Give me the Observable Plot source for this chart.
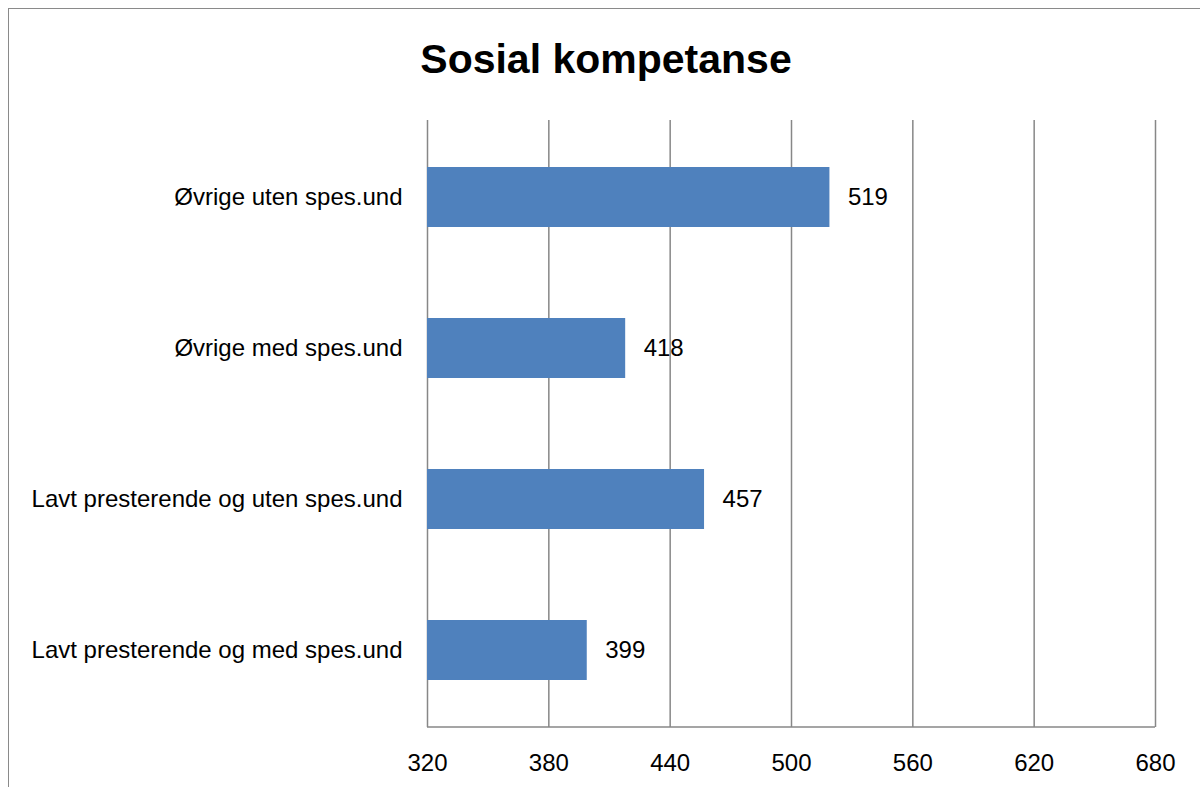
<!DOCTYPE html>
<html>
<head>
<meta charset="utf-8">
<script src="https://cdn.jsdelivr.net/npm/d3@7"></script>
<script src="https://cdn.jsdelivr.net/npm/@observablehq/plot@0.6"></script>
<style>
  html, body { margin: 0; padding: 0; background: #fff; overflow: hidden; }
  #wrap { position: relative; width: 1200px; height: 787px; }
  #border { position: absolute; left: 8px; top: 8px; width: 1300px; height: 900px; border: 1px solid #8a8a8a; box-sizing: border-box; }
  #title { position: absolute; left: 0; width: 1212px; top: 36px; text-align: center;
           font-family: "Liberation Sans", Arial, sans-serif; font-weight: bold; font-size: 41px; color: #000; }
  #chart { position: absolute; left: 0; top: 0; }
</style>
</head>
<body>
<div id="wrap">
  <div id="border"></div>
  <div id="title"></div>
  <div id="chart"></div>
</div>
<script>
const titleText = "Sosial kompetanse";
const categories = [
  "Øvrige uten spes.und",
  "Øvrige med spes.und",
  "Lavt presterende og uten spes.und",
  "Lavt presterende og med spes.und"
];
const values = [519, 418, 457, 399];
const xTicks = [320, 380, 440, 500, 560, 620, 680];

const data = categories.map((c, i) => ({category: c, value: values[i]}));
document.getElementById("title").textContent = titleText;

const gridColor = "#878787";

const bottomLine = (index, scales, channels, dimensions) => {
  const y = dimensions.height - dimensions.marginBottom;
  const x1 = scales.x(xTicks[0]);
  const x2 = scales.x(xTicks[xTicks.length - 1]);
  const line = document.createElementNS("http://www.w3.org/2000/svg", "line");
  line.setAttribute("x1", x1); line.setAttribute("x2", x2);
  line.setAttribute("y1", y); line.setAttribute("y2", y);
  line.setAttribute("stroke", gridColor);
  line.setAttribute("stroke-width", 1.5);
  return line;
};

const chart = Plot.plot({
  width: 1200,
  height: 787,
  marginLeft: 427,
  marginRight: 45,
  marginTop: 120,
  marginBottom: 60,
  style: {fontFamily: "'Liberation Sans', Arial, sans-serif", fontSize: "24px", color: "#000", background: "transparent", overflow: "visible"},
  x: {domain: [320, 680], ticks: xTicks},
  y: {domain: categories, paddingInner: 0.6, paddingOuter: 0.3, label: null},
  marks: [
    Plot.ruleX(xTicks, {stroke: gridColor, strokeWidth: 1.5}),
    bottomLine,
    Plot.barX(data, {x1: 320, x2: "value", y: "category", fill: "#4F81BD"}),
    Plot.text(data, {x: "value", y: "category", text: d => String(d.value), textAnchor: "start", dx: 18, fill: "#000"}),
    Plot.axisX({ticks: xTicks, tickSize: 0, tickPadding: 26, label: null, tickFormat: d => String(d)}),
    Plot.axisY({tickSize: 0, tickPadding: 25, label: null})
  ]
});
document.getElementById("chart").appendChild(chart);
</script>
</body>
</html>
